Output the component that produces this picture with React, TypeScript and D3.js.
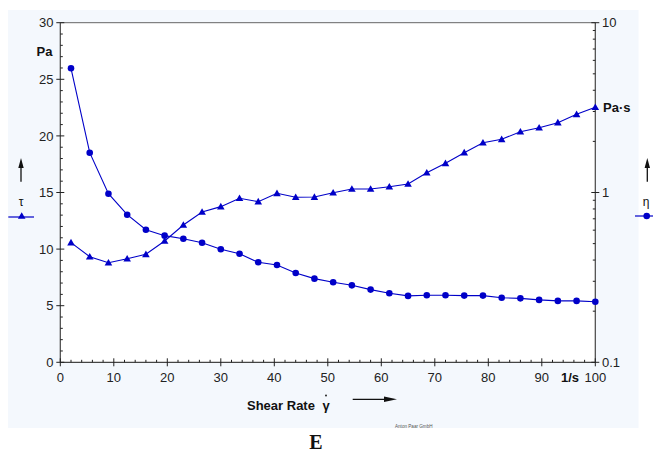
import React from "react";
import * as d3 from "d3";

const shearRate = [2, 5.5, 9, 12.5, 16, 19.5, 23, 26.5, 30, 33.5, 37, 40.5, 44, 47.5, 51, 54.5, 58, 61.5, 65, 68.5, 72, 75.5, 79, 82.5, 86, 89.5, 93, 96.5, 100];
const shearStress = [10.57, 9.33, 8.8, 9.15, 9.54, 10.72, 12.13, 13.28, 13.75, 14.49, 14.19, 14.93, 14.58, 14.6, 14.98, 15.31, 15.31, 15.51, 15.75, 16.75, 17.58, 18.52, 19.4, 19.7, 20.37, 20.72, 21.17, 21.91, 22.53];
const viscosity = [5.39, 1.716, 0.984, 0.74, 0.604, 0.557, 0.534, 0.506, 0.463, 0.436, 0.388, 0.374, 0.336, 0.311, 0.296, 0.284, 0.268, 0.255, 0.246, 0.248, 0.248, 0.247, 0.247, 0.24, 0.238, 0.233, 0.23, 0.23, 0.2275];
const xTicks = [0, 10, 20, 30, 40, 50, 60, 70, 80, 90, 100];
const xTickLabels = ["0", "10", "20", "30", "40", "50", "60", "70", "80", "90", "100"];
const leftTicks = [0, 5, 10, 15, 20, 25, 30];
const rightTicks = [0.1, 1, 10];
const rightTickLabels = ["0.1", "1", "10"];

const FONT = "'Liberation Sans', Arial, sans-serif";
const BLUE = "#0000c8";
const AX = "#444";

export default function App() {
  const x = d3.scaleLinear().domain([0, 100]).range([60.3, 595.3]);
  const yL = d3.scaleLinear().domain([0, 30]).range([362.3, 22.7]);
  const yR = d3.scaleLog().domain([0.1, 10]).range([362.3, 22.7]);

  const x0 = x(0), x1 = x(100), yb = yL(0), yt = yL(30);

  const lineL = d3.line<number>().x((_, i) => x(shearRate[i])).y((d) => yL(d));
  const lineR = d3.line<number>().x((_, i) => x(shearRate[i])).y((d) => yR(d));

  const xMinor = d3.range(0, 101, 2).filter((v) => v % 10 !== 0);
  const yMinor = d3.range(0, 31, 1).filter((v) => v % 5 !== 0);
  const rMinor: number[] = [];
  [0.1, 1].forEach((dec) => { for (let k = 2; k <= 9; k++) rMinor.push(dec * k); });

  const tri = (cx: number, cy: number, s = 3.8) =>
    `M${cx},${cy - s}L${cx + s},${cy + s * 0.75}L${cx - s},${cy + s * 0.75}Z`;

  return (
    <svg width={653} height={452} style={{ position: "absolute", left: 0, top: 0 }} fontFamily={FONT}>
      <rect x={0} y={0} width={653} height={452} fill="#fff" />
      <rect x={8} y={10} width={630.5} height={418} fill="#f4f8fd" />
      <rect x={x0} y={yt} width={x1 - x0} height={yb - yt} fill="#fff" />
      {/* frame */}
      <line x1={x0} x2={x1} y1={yt} y2={yt} stroke="#666" strokeWidth={1} />
      <line x1={x0} x2={x0} y1={yt} y2={yb} stroke={AX} strokeWidth={1.2} />
      <line x1={x1} x2={x1} y1={yt} y2={yb} stroke={AX} strokeWidth={1.2} />
      <line x1={x0} x2={x1} y1={yb} y2={yb} stroke={AX} strokeWidth={1.2} />

      {/* left axis ticks */}
      {leftTicks.map((v) => (
        <g key={"l" + v}>
          <line x1={x0 - 4} x2={x0 + 4} y1={yL(v)} y2={yL(v)} stroke="#222" />
          <text x={53.5} y={yL(v)} dy="0.36em" textAnchor="end" fontSize={13} fill="#222">{v}</text>
        </g>
      ))}
      {yMinor.map((v) => (
        <line key={"lm" + v} x1={x0} x2={x0 + 2.5} y1={yL(v)} y2={yL(v)} stroke="#222" />
      ))}

      {/* right axis ticks */}
      {rightTicks.map((v, i) => (
        <g key={"r" + v}>
          <line x1={x1 - 4} x2={x1 + 4} y1={yR(v)} y2={yR(v)} stroke="#222" />
          <text x={602} y={yR(v)} dy="0.36em" textAnchor="start" fontSize={13} fill="#222">{rightTickLabels[i]}</text>
        </g>
      ))}
      {rMinor.map((v) => (
        <line key={"rm" + v} x1={x1 - 2.5} x2={x1} y1={yR(v)} y2={yR(v)} stroke="#222" />
      ))}

      {/* bottom axis ticks */}
      {xTicks.map((v, i) => (
        <g key={"x" + v}>
          <line x1={x(v)} x2={x(v)} y1={yb - 4} y2={yb + 4} stroke="#222" />
          <text x={x(v)} y={382} textAnchor="middle" fontSize={13} fill="#222">{xTickLabels[i]}</text>
        </g>
      ))}
      {xMinor.map((v) => (
        <line key={"xm" + v} x1={x(v)} x2={x(v)} y1={yb - 2.5} y2={yb} stroke="#222" />
      ))}

      {/* unit labels */}
      <text x={52.5} y={56} textAnchor="end" fontSize={13} fontWeight="bold" fill="#111">Pa</text>
      <text x={603} y={111.5} textAnchor="start" fontSize={13} fontWeight="bold" fill="#111">Pa·s</text>
      <text x={579} y={382} textAnchor="end" fontSize={13} fontWeight="bold" fill="#111">1/s</text>

      {/* x axis title */}
      <text x={247} y={410} fontSize={13} fontWeight="bold" fill="#111">Shear Rate</text>
      <text x={322.5} y={410} fontSize={13} fontWeight="bold" fill="#111">γ</text>
      <circle cx={326} cy={395.5} r={0.9} fill="#111" />
      <line x1={352.7} x2={386} y1={399.3} y2={399.3} stroke="#111" strokeWidth={1.3} />
      <path d="M384,396.6L397,399.3L384,402Z" fill="#111" />

      {/* left legend */}
      <line x1={21} x2={21} y1={165} y2={181.7} stroke="#111" strokeWidth={1.3} />
      <path d="M21,158L23.7,168L18.3,168Z" fill="#111" />
      <text x={21} y={205.5} textAnchor="middle" fontSize={12} fill="#111">τ</text>
      <line x1={8.3} x2={34} y1={217} y2={217} stroke={BLUE} strokeWidth={1.2} />
      <path d={tri(21.7, 216)} fill={BLUE} />

      {/* right legend */}
      <line x1={647.3} x2={647.3} y1={165} y2={181.7} stroke="#111" strokeWidth={1.3} />
      <path d="M647.3,158L650,168L644.6,168Z" fill="#111" />
      <text x={646} y={205.5} textAnchor="middle" fontSize={12} fill="#111">η</text>
      <line x1={635} x2={653} y1={216} y2={216} stroke={BLUE} strokeWidth={1.2} />
      <circle cx={646.7} cy={216} r={3.3} fill={BLUE} />

      {/* data series */}
      <path d={lineL(shearStress) || ""} fill="none" stroke={BLUE} strokeWidth={1.1} />
      <path d={lineR(viscosity) || ""} fill="none" stroke={BLUE} strokeWidth={1.1} />
      {shearStress.map((v, i) => (
        <path key={"t" + i} d={tri(x(shearRate[i]), yL(v))} fill={BLUE} />
      ))}
      {viscosity.map((v, i) => (
        <circle key={"c" + i} cx={x(shearRate[i])} cy={yR(v)} r={3.3} fill={BLUE} />
      ))}

      <text x={395} y={427.5} fontSize={4.6} fill="#555">Anton Paar GmbH</text>
      <text x={315.8} y={449} textAnchor="middle" fontSize={20} fontWeight="bold" fontFamily="'Liberation Serif', 'Times New Roman', serif" fill="#111">E</text>
    </svg>
  );
}
